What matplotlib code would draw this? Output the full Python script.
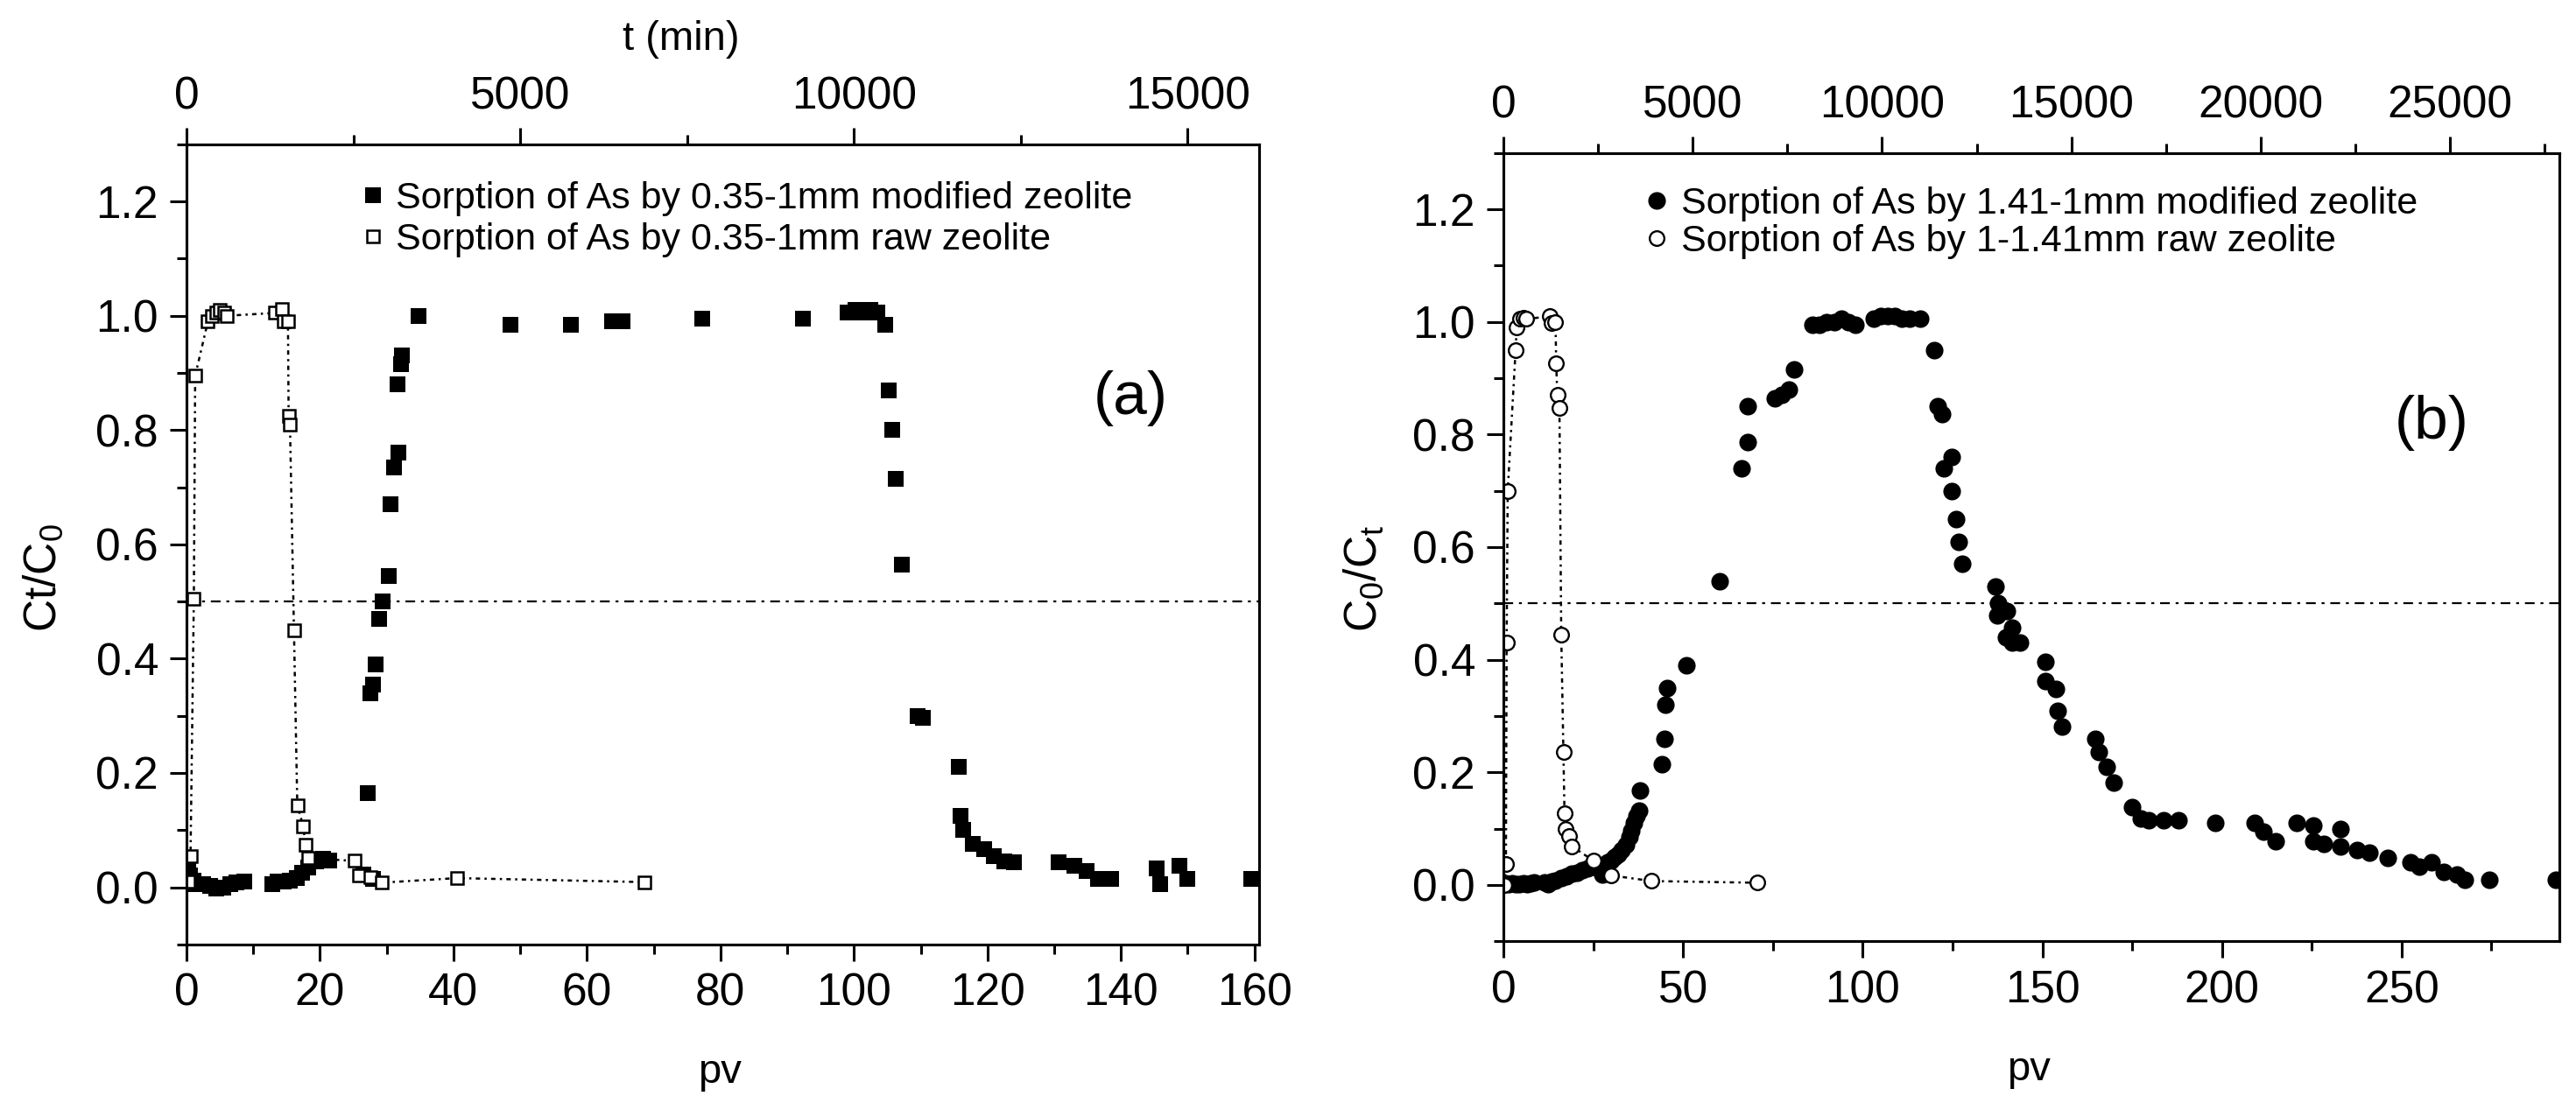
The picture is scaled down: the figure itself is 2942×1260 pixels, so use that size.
import matplotlib
matplotlib.use('Agg')
import matplotlib.pyplot as plt
from matplotlib.ticker import MultipleLocator, FormatStrFormatter
from matplotlib.lines import Line2D

plt.rcParams['font.family'] = ['Liberation Sans', 'DejaVu Sans']
plt.rcParams['mathtext.fontset'] = 'custom'
plt.rcParams['mathtext.rm'] = 'Liberation Sans'
plt.rcParams['mathtext.it'] = 'Liberation Sans'

# ---------------- data ----------------
# Panel (a): 0.35-1 mm zeolite
a_mod_pv = [0.2, 0.5, 1.0, 1.5, 2.5, 3.5, 4.5, 5.5, 6.5, 7.5, 8.6,
            12.9, 13.6, 14.5, 15.5, 16.5, 17.3, 18.3, 19.4, 20.4, 21.4,
            26.5, 28.0,
            27.2, 27.5, 28.0, 28.3, 28.8, 29.4, 30.3, 30.6, 31.1, 31.7, 31.6, 32.2, 32.3,
            34.8, 48.6, 57.6, 63.8, 65.3, 77.3, 92.3,
            99.0, 100.2, 101.3, 102.4, 103.5, 104.7, 105.2, 105.7, 106.2, 107.2,
            109.6, 110.3, 115.7, 116.0, 116.4, 117.8, 119.5, 120.9, 122.5, 124.0,
            130.6, 133.0, 134.8, 136.5, 138.5, 145.3, 145.9, 148.8, 150.0, 159.5]
a_mod_c = [0.028, 0.02, 0.012, 0.006, 0.005, 0.002, -0.003, 0.0, 0.005, 0.008, 0.01,
           0.006, 0.01, 0.01, 0.012, 0.016, 0.026, 0.034, 0.045, 0.05, 0.046,
           0.022, 0.014,
           0.165, 0.34, 0.355, 0.39, 0.47, 0.50, 0.545, 0.67, 0.735, 0.76, 0.88, 0.915, 0.93,
           1.0, 0.985, 0.985, 0.99, 0.99, 0.995, 0.995,
           1.005, 1.01, 1.005, 1.01, 1.005, 0.985, 0.87, 0.80, 0.715, 0.565,
           0.30, 0.297, 0.21, 0.125, 0.10, 0.076, 0.066, 0.055, 0.045, 0.043,
           0.043, 0.038, 0.028, 0.015, 0.015, 0.033, 0.006, 0.038, 0.015, 0.014]

a_raw_pv = [0.3, 0.6, 1.1, 1.3, 3.2, 3.8, 4.4, 5.0, 5.6, 6.0,
            13.3, 14.3, 14.6, 15.2, 15.3, 15.5, 16.1, 16.6, 17.5, 17.8, 18.2,
            25.2, 25.8, 27.5, 29.3, 40.5, 68.6]
a_raw_c = [0.01, 0.055, 0.505, 0.895, 0.99, 1.0, 1.005, 1.01, 1.005, 1.0,
           1.005, 1.012, 0.99, 0.99, 0.825, 0.81, 0.45, 0.143, 0.107, 0.074, 0.051,
           0.046, 0.021, 0.018, 0.008, 0.016, 0.009]

# Panel (b): 1-1.41 mm zeolite
b_mod_pv = [0.5, 1.5, 2.5, 3.5, 4.5, 5.5, 6.5, 7.5, 8.5,
            11.5, 12.5, 13.5, 14.5, 16.0, 17.5, 19.0, 20.5, 22.0, 23.5, 25.0, 26.5, 27.5,
            28.0, 29.0, 30.0, 31.0, 32.0, 33.0, 34.0, 35.0, 35.7, 36.3, 37.0, 37.7, 37.9,
            44.2, 44.8, 45.0, 45.5, 51.0, 60.2, 66.4, 67.9, 67.9, 75.5, 77.5, 79.5, 81.0,
            86, 88, 90, 92, 94, 96, 98, 103, 105, 107, 109, 111, 113, 116,
            119.8, 120.8, 122.0, 122.7, 124.8, 124.8, 126.0, 126.8, 127.6,
            137.0, 137.8, 137.5, 140.2, 141.5, 139.8, 141.5, 143.8,
            150.8, 150.8, 153.7, 154.3, 155.4,
            164.7, 165.8, 167.8, 169.9, 175.0, 177.4, 179.7, 183.8, 187.8, 198.2,
            209.2, 211.5, 215.0, 220.8, 225.4, 225.4, 228.3, 232.9, 232.9, 237.5, 241.0,
            246.2, 252.5, 254.9, 258.3, 261.8, 265.3, 267.6, 274.5, 293.0]
b_mod_c = [0.003, 0.002, 0.003, 0.001, 0.002, 0.003, 0.002, 0.003, 0.004,
           0.004, 0.002, 0.006, 0.008, 0.012, 0.015, 0.02, 0.022, 0.027, 0.03, 0.032, 0.03, 0.018,
           0.035, 0.04, 0.044, 0.05, 0.055, 0.062, 0.072, 0.085, 0.097, 0.11, 0.122, 0.132, 0.168,
           0.215, 0.26, 0.32, 0.35, 0.39, 0.54, 0.74, 0.787, 0.85, 0.865, 0.87, 0.88, 0.916,
           0.995, 0.995, 1.0, 1.0, 1.005, 1.0, 0.995, 1.005, 1.01, 1.01, 1.01, 1.005, 1.005, 1.005,
           0.95, 0.85, 0.836, 0.74, 0.76, 0.70, 0.65, 0.61, 0.57,
           0.53, 0.50, 0.478, 0.487, 0.457, 0.44, 0.43, 0.43,
           0.397, 0.362, 0.348, 0.31, 0.282,
           0.26, 0.237, 0.21, 0.182, 0.138, 0.118, 0.115, 0.115, 0.115, 0.111,
           0.111, 0.095, 0.078, 0.111, 0.106, 0.078, 0.073, 0.10, 0.068, 0.062, 0.057,
           0.048, 0.04, 0.033, 0.04, 0.024, 0.019, 0.01, 0.01, 0.01]

b_raw_pv = [0.3, 0.7, 0.9, 1.2, 3.4, 3.7, 4.6, 5.5, 6.4,
            12.9, 13.5, 14.5, 14.7, 15.0, 15.6, 16.1, 16.7, 17.0, 17.4, 18.2, 19.0,
            25.1, 30.0, 41.3, 70.6]
b_raw_c = [0.0, 0.038, 0.43, 0.70, 0.95, 0.99, 1.005, 1.008, 1.005,
           1.01, 0.998, 1.0, 0.926, 0.87, 0.847, 0.444, 0.237, 0.128, 0.10, 0.087, 0.069,
           0.043, 0.017, 0.007, 0.004]

a_labels = ['Sorption of As by 0.35-1mm modified zeolite',
            'Sorption of As by 0.35-1mm raw zeolite']
b_labels = ['Sorption of As by 1.41-1mm modified zeolite',
            'Sorption of As by 1-1.41mm raw zeolite']

a_pv_max, b_pv_max = 160.7, 293.9
a_t_max, b_t_max = 16070, 27890

# ---------------- figure ----------------
W, H = 2942, 1260
fig = plt.figure(figsize=(W / 100, H / 100), dpi=100)

def px_rect(l, t, r, b):
    return [l / W, 1 - b / H, (r - l) / W, (b - t) / H]

axA = fig.add_axes(px_rect(213, 164.9, 1438, 1078.8))
axB = fig.add_axes(px_rect(1717, 174.7, 2923, 1075.3))

TICK_FS = 37
LW = 2.2

def style(ax, xmax, xmaj, xmin_, tmax, tmaj):
    ax.set_xlim(0, xmax)
    ax.set_ylim(-0.1, 1.3)
    ax.xaxis.set_major_locator(MultipleLocator(xmaj))
    ax.xaxis.set_minor_locator(MultipleLocator(xmin_))
    ax.yaxis.set_major_locator(MultipleLocator(0.2))
    ax.yaxis.set_minor_locator(MultipleLocator(0.1))
    ax.yaxis.set_major_formatter(FormatStrFormatter('%.1f'))
    ax.tick_params(which='both', direction='out', top=False, right=False,
                   width=LW, labelsize=TICK_FS, pad=9)
    ax.tick_params(which='major', length=14)
    ax.tick_params(which='minor', length=8)
    for s in ax.spines.values():
        s.set_linewidth(LW)
    top = ax.twiny()
    top.set_xlim(0, tmax)
    top.xaxis.set_major_locator(MultipleLocator(tmaj))
    top.xaxis.set_minor_locator(MultipleLocator(tmaj / 2))
    top.tick_params(which='both', direction='out', width=LW, labelsize=TICK_FS, pad=7,
                    bottom=False, labelbottom=False, top=True, labeltop=True)
    top.tick_params(which='major', length=14)
    top.tick_params(which='minor', length=8)
    for s in top.spines.values():
        s.set_linewidth(LW)
    top.patch.set_visible(False)
    ax.axhline(0.5, color='k', lw=1.6, ls=(0, (5, 3, 1.5, 3)), zorder=1)
    return top

style(axA, a_pv_max, 20, 10, a_t_max, 5000)
style(axB, b_pv_max, 50, 25, b_t_max, 5000)

dot_ls = (0, (2, 2, 1, 2))

# panel a
axA.plot(a_raw_pv, a_raw_c, color='k', lw=1.8, ls=dot_ls, zorder=2)
axA.plot(a_mod_pv, a_mod_c, ls='none', marker='s', ms=13, mew=0, color='k', zorder=3)
axA.plot(a_raw_pv, a_raw_c, ls='none', marker='s', ms=10.5, mew=1.8, mec='k', mfc='white', zorder=4)

# panel b
axB.plot(b_raw_pv, b_raw_c, color='k', lw=1.8, ls=dot_ls, zorder=2)
axB.plot(b_mod_pv, b_mod_c, ls='none', marker='o', ms=14.5, mew=0, color='k', zorder=3)
axB.plot(b_raw_pv, b_raw_c, ls='none', marker='o', ms=12, mew=1.7, mec='k', mfc='white', zorder=4)

# legends
LEG_FS = 31
hA = [Line2D([], [], ls='none', marker='s', ms=13, mew=0, color='k'),
      Line2D([], [], ls='none', marker='s', ms=10.5, mew=1.8, mec='k', mfc='white')]
hB = [Line2D([], [], ls='none', marker='o', ms=14.5, mew=0, color='k'),
      Line2D([], [], ls='none', marker='o', ms=12, mew=1.7, mec='k', mfc='white')]
fig.legend(hA, a_labels, loc='upper left', bbox_to_anchor=(409 / W, 1 - 207 / H),
           frameon=False, fontsize=LEG_FS,
           handlelength=0.8, handletextpad=0.2, borderpad=0, borderaxespad=0,
           labelspacing=0.16)
fig.legend(hB, b_labels, loc='upper left', bbox_to_anchor=(1875 / W, 1 - 213 / H),
           frameon=False, fontsize=LEG_FS,
           handlelength=0.8, handletextpad=0.25, borderpad=0, borderaxespad=0,
           labelspacing=0.08)

# texts
def ftext(x, y, s, **kw):
    fig.text(x / W, 1 - y / H, s, **kw)

ftext(1291, 455, '(a)', fontsize=50, ha='center', va='center')
ftext(2777, 483, '(b)', fontsize=50, ha='center', va='center')
ftext(778, 45, 't (min)', fontsize=34, ha='center', va='center')
ftext(822, 1225, 'pv', fontsize=34, ha='center', va='center')
ftext(2317, 1222, 'pv', fontsize=34, ha='center', va='center')
ftext(50, 660, 'Ct/C$_0$', fontsize=37, rotation=90, ha='center', va='center')
ftext(1558, 661, 'C$_0$/C$_t$', fontsize=37, rotation=90, ha='center', va='center')

fig.savefig('out.png', dpi=100)
